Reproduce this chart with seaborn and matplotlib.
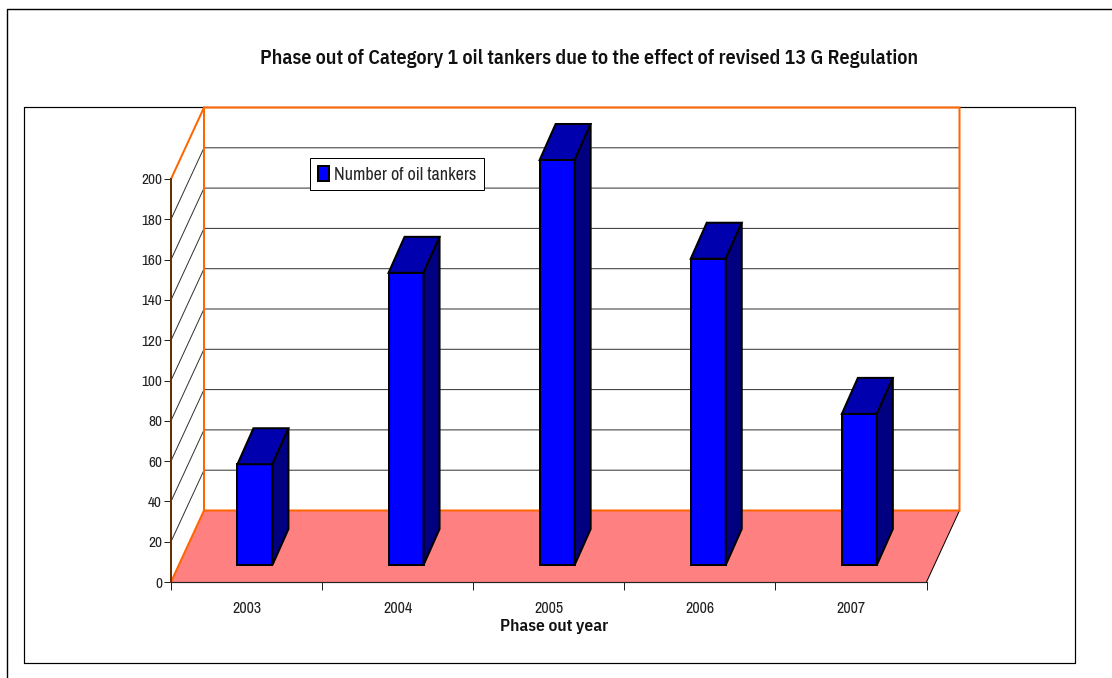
import matplotlib
matplotlib.use('Agg')
import matplotlib.pyplot as plt
from matplotlib.lines import Line2D
from matplotlib.patches import Polygon
import pandas as pd
import seaborn as sns

years = ['2003', '2004', '2005', '2006', '2007']
tankers = [50, 145, 201, 152, 75]
y_ticks = list(range(0, 201, 20))

title = 'Phase out of Category 1 oil tankers due to the effect of revised 13 G Regulation'
series_name = 'Number of oil tankers'

W, H = 1112, 678
X0, X1, Y0, Y1 = 171, 926.5, 582, 179  # pixel box of the front plane
PX_X = (X1 - X0) / 5
PX_Y = (Y0 - Y1) / 200

# depth of the fake 3D box, in data units
WALL_DX, WALL_DY = 33 / PX_X, 71.5 / PX_Y
BAR_X, BAR_Y = 8.4 / PX_X, 17 / PX_Y
DEPTH_X, DEPTH_Y = 16 / PX_X, 36 / PX_Y

LW = 0.72  # about one pixel
narrow = ['Archivo Narrow', 'Liberation Sans']
narrow_bold = ['IBM Plex Sans Condensed', 'Liberation Sans']

sns.set_theme(style='white')
plt.rcParams['font.family'] = narrow

df = pd.DataFrame({'year': years, 'tankers': tankers})

fig = plt.figure(figsize=(W / 100, H / 100), dpi=100, facecolor='white')
ax = fig.add_axes([X0 / W, 1 - Y0 / H, (X1 - X0) / W, (Y0 - Y1) / H])
ax.patch.set_visible(False)


def frame(xs, ys, lw=LW * 1.4):
    fig.add_artist(Line2D([x / W for x in xs], [1 - y / H for y in ys], zorder=-1,
                          color='black', lw=lw, transform=fig.transFigure))


# outer and inner frames
frame([7, 7, W], [H, 9, 9])
frame([24, 1075, 1075, 24, 24], [107, 107, 663, 663, 107], lw=LW * 1.2)

sns.barplot(data=df, x='year', y='tankers', color='#0000FF', saturation=1,
            width=35 / PX_X, edgecolor='black', linewidth=LW * 2,
            label=series_name, legend=False, ax=ax, zorder=5)
ax.set_xlim(-0.5, 4.5)
ax.set_ylim(0, 200)

lo, hi = -0.5, 4.5
top = 200

# floor and walls
ax.add_patch(Polygon([(lo, 0), (hi, 0), (hi + WALL_DX, WALL_DY), (lo + WALL_DX, WALL_DY)],
                     facecolor='#FF8080', edgecolor='none', clip_on=False, zorder=1))
ax.plot([hi, hi + WALL_DX], [0, WALL_DY], color='black', lw=LW, clip_on=False, zorder=2)
orange = '#FF6600'
ax.plot([lo, lo + WALL_DX, lo + WALL_DX, hi + WALL_DX, hi + WALL_DX, lo + WALL_DX],
        [0, WALL_DY, top + WALL_DY, top + WALL_DY, WALL_DY, WALL_DY],
        color=orange, lw=LW * 2, clip_on=False, zorder=3, solid_joinstyle='miter')
ax.plot([lo, lo + WALL_DX], [top, top + WALL_DY], color=orange, lw=LW * 2, clip_on=False, zorder=3)

# gridlines on back wall and side wall
for v in y_ticks[1:-1]:
    ax.plot([lo, lo + WALL_DX, hi + WALL_DX], [v, v + WALL_DY, v + WALL_DY],
            color='#333333', lw=LW, clip_on=False, zorder=2)

# bars: shift the front faces, then add top and side
for patch in list(ax.patches):
    if patch.get_zorder() != 5:
        continue
    patch.set_x(patch.get_x() + BAR_X)
    patch.set_y(BAR_Y)
    patch.set_clip_on(False)
    x, w, b, h = patch.get_x(), patch.get_width(), patch.get_y(), patch.get_height()
    ax.add_patch(Polygon([(x, b + h), (x + w, b + h), (x + w + DEPTH_X, b + h + DEPTH_Y),
                          (x + DEPTH_X, b + h + DEPTH_Y)],
                         facecolor='#0000AE', edgecolor='black', lw=LW * 2,
                         joinstyle='miter', clip_on=False, zorder=5))
    ax.add_patch(Polygon([(x + w, b), (x + w + DEPTH_X, b + DEPTH_Y),
                          (x + w + DEPTH_X, b + h + DEPTH_Y), (x + w, b + h)],
                         facecolor='#000080', edgecolor='black', lw=LW * 2,
                         joinstyle='miter', clip_on=False, zorder=5))

# axes
sns.despine(ax=ax, top=True, right=True)
ax.spines['left'].set_color('#663300')
ax.spines['left'].set_linewidth(LW * 2)
ax.spines['left'].set_zorder(4)
ax.spines['bottom'].set_color('#222222')
ax.spines['bottom'].set_linewidth(LW * 1.2)
ax.spines['bottom'].set_zorder(4)

ax.set_yticks(y_ticks)
ax.tick_params(axis='y', left=True, length=5, width=LW, color='#222222', pad=1.5,
               labelsize=11, labelcolor='#222222')
ax.tick_params(axis='x', which='major', bottom=False, pad=7.5, labelsize=11.5, labelcolor='#222222')
ax.set_xticks([-0.5, 0.5, 1.5, 2.5, 3.5, 4.5], minor=True)
ax.tick_params(axis='x', which='minor', bottom=True, length=5.8, width=LW, color='#222222')

ax.set_xlabel('Phase out year', fontsize=12.5, fontweight='semibold', color='#111111',
              family=narrow_bold, x=(554 - X0) / (X1 - X0), labelpad=2.5)
ax.set_ylabel('')
ax.set_title(title, fontsize=14.4, fontweight='semibold', color='#111111', family=narrow_bold,
             x=(589 - X0) / (X1 - X0), y=1, pad=83)

leg = ax.legend(loc='upper left', bbox_to_anchor=((310 - X0) / (X1 - X0), 1 - (158 - Y1) / (Y0 - Y1)),
                frameon=True, fancybox=False, framealpha=1, edgecolor='black',
                fontsize=13, handlelength=0.62, handleheight=0.95, handletextpad=0.3,
                borderpad=0.42, borderaxespad=0)
leg.get_frame().set_linewidth(LW)
leg.set_zorder(6)

fig.savefig('out.png', dpi=100)
